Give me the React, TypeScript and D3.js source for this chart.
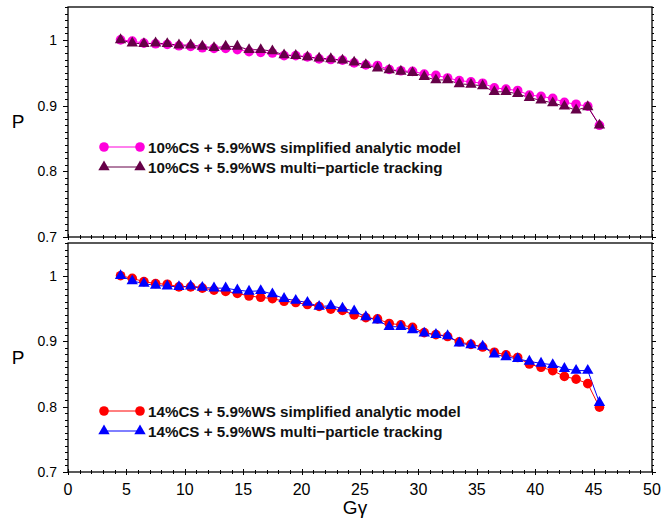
import React from "react";
import * as d3 from "d3";

const gammaG = [4.5, 5.5, 6.5, 7.5, 8.5, 9.5, 10.5, 11.5, 12.5, 13.5, 14.5, 15.5, 16.5, 17.5, 18.5, 19.5, 20.5, 21.5, 22.5, 23.5, 24.5, 25.5, 26.5, 27.5, 28.5, 29.5, 30.5, 31.5, 32.5, 33.5, 34.5, 35.5, 36.5, 37.5, 38.5, 39.5, 40.5, 41.5, 42.5, 43.5, 44.5, 45.5];

const analytic10 = [1.000, 0.998, 0.995, 0.994, 0.993, 0.991, 0.990, 0.988, 0.987, 0.987, 0.985, 0.982, 0.981, 0.980, 0.976, 0.976, 0.974, 0.971, 0.970, 0.969, 0.965, 0.962, 0.961, 0.955, 0.953, 0.952, 0.948, 0.946, 0.942, 0.938, 0.936, 0.934, 0.927, 0.925, 0.923, 0.916, 0.914, 0.911, 0.905, 0.902, 0.899, 0.870];
const tracking10 = [1.000, 0.995, 0.994, 0.995, 0.994, 0.992, 0.992, 0.990, 0.988, 0.990, 0.990, 0.985, 0.985, 0.983, 0.977, 0.976, 0.974, 0.972, 0.971, 0.969, 0.966, 0.962, 0.957, 0.954, 0.952, 0.950, 0.944, 0.939, 0.939, 0.933, 0.932, 0.930, 0.921, 0.921, 0.918, 0.912, 0.908, 0.904, 0.899, 0.893, 0.898, 0.870];
const analytic14 = [1.000, 0.996, 0.991, 0.988, 0.987, 0.983, 0.983, 0.981, 0.978, 0.976, 0.973, 0.969, 0.967, 0.965, 0.961, 0.959, 0.956, 0.953, 0.949, 0.947, 0.940, 0.936, 0.934, 0.927, 0.925, 0.921, 0.913, 0.910, 0.907, 0.899, 0.895, 0.891, 0.883, 0.879, 0.875, 0.865, 0.860, 0.855, 0.846, 0.842, 0.835, 0.799];
const tracking14 = [1.000, 0.992, 0.988, 0.985, 0.984, 0.983, 0.984, 0.982, 0.981, 0.981, 0.978, 0.976, 0.977, 0.972, 0.965, 0.962, 0.959, 0.953, 0.954, 0.950, 0.946, 0.937, 0.932, 0.922, 0.922, 0.917, 0.912, 0.910, 0.908, 0.897, 0.894, 0.892, 0.880, 0.876, 0.873, 0.869, 0.866, 0.864, 0.858, 0.855, 0.855, 0.806];

const xTickLabels = ["0", "5", "10", "15", "20", "25", "30", "35", "40", "45", "50"];
const yTickLabels = ["0.7", "0.8", "0.9", "1"];

const legendTop = ["10%CS + 5.9%WS simplified analytic model", "10%CS + 5.9%WS multi\u2212particle tracking"];
const legendBottom = ["14%CS + 5.9%WS simplified analytic model", "14%CS + 5.9%WS multi\u2212particle tracking"];

const L = 68, R = 652;
const FONT = "'Liberation Sans', Arial, Helvetica, sans-serif";

const x = d3.scaleLinear().domain([0, 50]).range([L, R]);

const triPath = d3.symbol().type(d3.symbolTriangle).size(56)();

function Panel({ top, bottom, circ, tri, cColor, tColor, legend, legTop, showXLabels }) {
  const y = d3.scaleLinear().domain([0.7, 1.05]).range([bottom, top]);
  const line = d3.line<number>().x((_, i) => x(gammaG[i])).y((d) => y(d));
  const yMinor = d3.range(70, 106).map((v) => v / 100);
  const xMinor = d3.range(0, 51);
  const legY = [legTop, legTop + 20];
  return (
    <g>
      <rect x={L} y={top} width={R - L} height={bottom - top} fill="white" stroke="none" />
      {yMinor.map((v, i) => {
        const major = Math.round(v * 100) % 10 === 0;
        const len = major ? 5 : 3;
        const yy = Math.round(y(v)) + 0.5;
        return (
          <g key={"yt" + i}>
            <line x1={L - len} x2={L} y1={yy} y2={yy} stroke="#000" strokeWidth={1} />
            <line x1={R} x2={R + len - 1} y1={yy} y2={yy} stroke="#000" strokeWidth={1} />
          </g>
        );
      })}
      {xMinor.map((v, i) => {
        const major = v % 5 === 0;
        const len = major ? 3 : 2;
        const xx = Math.round(x(v)) + 0.5;
        return <line key={"xt" + i} x1={xx} x2={xx} y1={bottom - len} y2={bottom + len} stroke="#000" strokeWidth={1} />;
      })}
      <rect x={L} y={top} width={R - L} height={bottom - top} fill="none" stroke="#000" strokeWidth={1.3} />
      {yTickLabels.map((t) => (
        <text key={t} x={57} y={y(+t) + 5} textAnchor="end" fontFamily={FONT} fontSize={14} fill="#000">{t}</text>
      ))}
      <text x={18} y={(top + bottom) / 2 + 1} textAnchor="middle" fontFamily={FONT} fontSize={19} fill="#000" dominantBaseline="middle">P</text>
      {showXLabels && xTickLabels.map((t) => (
        <text key={t} x={x(+t)} y={bottom + 23} textAnchor="middle" fontFamily={FONT} fontSize={16} fill="#000">{t}</text>
      ))}
      <path d={line(circ) || ""} fill="none" stroke={cColor} strokeWidth={1} />
      <path d={line(tri) || ""} fill="none" stroke={tColor} strokeWidth={1} />
      {circ.map((v, i) => (
        <circle key={"c" + i} cx={x(gammaG[i])} cy={y(v)} r={4.8} fill={cColor} />
      ))}
      {tri.map((v, i) => (
        <path key={"t" + i} d={triPath} transform={`translate(${x(gammaG[i])},${y(v)})`} fill={tColor} />
      ))}
      <line x1={104} x2={140} y1={legY[0]} y2={legY[0]} stroke={cColor} strokeWidth={1} />
      <circle cx={104} cy={legY[0]} r={4.8} fill={cColor} />
      <circle cx={140} cy={legY[0]} r={4.8} fill={cColor} />
      <line x1={104} x2={140} y1={legY[1]} y2={legY[1]} stroke={tColor} strokeWidth={1} />
      <path d={triPath} transform={`translate(104,${legY[1]})`} fill={tColor} />
      <path d={triPath} transform={`translate(140,${legY[1]})`} fill={tColor} />
      {legend.map((t, i) => (
        <text key={t} x={148} y={legY[i] + 5.5} fontFamily={FONT} fontSize={15.2} fontWeight="bold" fill="#111">{t}</text>
      ))}
    </g>
  );
}

export default function App() {
  return (
    <svg width={662} height={519} style={{ position: "absolute", left: 0, top: 0, background: "white" }}>
      <rect x={0} y={0} width={662} height={519} fill="white" />
      <Panel top={7} bottom={237} circ={analytic10} tri={tracking10} cColor="#ff00dc" tColor="#660048" legend={legendTop} legTop={147} showXLabels={false} />
      <Panel top={243} bottom={472} circ={analytic14} tri={tracking14} cColor="#ff0000" tColor="#0000ff" legend={legendBottom} legTop={411} showXLabels={true} />
      <text x={355} y={514} textAnchor="middle" fontFamily={FONT} fontSize={19} fill="#000">Gγ</text>
    </svg>
  );
}
